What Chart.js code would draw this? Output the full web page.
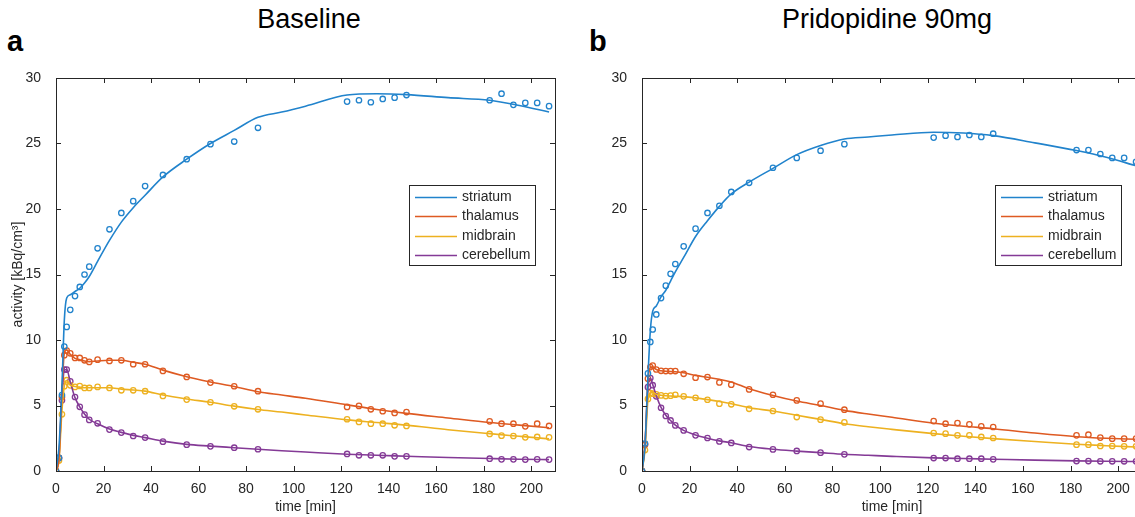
<!DOCTYPE html>
<html>
<head>
<meta charset="utf-8">
<script src="https://cdn.jsdelivr.net/npm/chart.js@4.4.1/dist/chart.umd.min.js"></script>
<style>
  html, body { margin: 0; padding: 0; background: #fff; }
  body { width: 1135px; height: 517px; overflow: hidden; position: relative; font-family: 'Liberation Sans', Arial, sans-serif; }
  canvas { position: absolute; top: 60px; }
  .lbl { position: absolute; color: #000; white-space: nowrap; }
  .panel { font-weight: bold; font-size: 29px; }
  .title { font-size: 27px; transform: translateX(-50%); }
</style>
</head>
<body>
<div class="lbl panel" style="left:7px; top:25px;">a</div>
<div class="lbl panel" style="left:589px; top:25px;">b</div>
<div class="lbl title" style="left:309px; top:4px;">Baseline</div>
<div class="lbl title" style="left:887px; top:4px;">Pridopidine 90mg</div>
<canvas id="chartA" width="575" height="457" style="left:0px;"></canvas>
<canvas id="chartB" width="577" height="457" style="left:585px;"></canvas>
<script>
// regions and colours (MATLAB default order)
const regions = ['striatum', 'thalamus', 'midbrain', 'cerebellum'];
const regionColors = ['#2183cc', '#de5a22', '#edb120', '#843a96'];

// frame mid-times [min]
const frameTimes = [0, 1.25, 2.5, 3.5, 4.5, 6, 8, 10, 12, 14, 17.5, 22.5, 27.5, 32.5, 37.5, 45, 55, 65, 75, 85,
  122.5, 127.5, 132.5, 137.5, 142.5, 147.5, 182.5, 187.5, 192.5, 197.5, 202.5, 207.5];

// measured activity, baseline [kBq/cm3]
const baseStriatum = [0, 1.0, 5.8, 9.5, 11.0, 12.3, 13.35, 14.05, 15.0, 15.6, 17.0, 18.45, 19.7, 20.6, 21.75, 22.6, 23.8, 24.95, 25.15, 26.2,
  28.2, 28.3, 28.15, 28.4, 28.5, 28.7, 28.3, 28.8, 27.95, 28.1, 28.1, 27.85];
const baseThalamus = [0, 1.0, 5.65, 8.84, 9.2, 8.98, 8.63, 8.63, 8.45, 8.33, 8.5, 8.4, 8.45, 8.15, 8.15, 7.64, 7.18, 6.75, 6.47, 6.09,
  4.89, 4.97, 4.71, 4.56, 4.43, 4.5, 3.79, 3.61, 3.61, 3.41, 3.61, 3.44];
const baseMidbrain = [0, 0.8, 4.33, 6.47, 6.93, 6.54, 6.42, 6.49, 6.34, 6.34, 6.42, 6.34, 6.16, 6.16, 6.09, 5.73, 5.45, 5.25, 4.94, 4.71,
  3.95, 3.75, 3.61, 3.61, 3.49, 3.44, 2.83, 2.7, 2.67, 2.57, 2.6, 2.57];
const baseCerebellum = [0, 1.0, 5.4, 7.74, 7.74, 6.85, 5.65, 4.9, 4.3, 3.9, 3.64, 3.16, 2.93, 2.67, 2.55, 2.24, 2.01, 1.88, 1.78, 1.66,
  1.3, 1.2, 1.2, 1.2, 1.12, 1.12, 0.94, 0.89, 0.89, 0.87, 0.89, 0.87];

// measured activity, pridopidine 90mg
const pridStriatum = [0, 2.1, 7.45, 9.85, 10.8, 11.95, 13.2, 14.15, 15.05, 15.8, 17.15, 18.5, 19.7, 20.25, 21.3, 22.0, 23.15, 23.9, 24.45, 24.95,
  25.45, 25.6, 25.5, 25.65, 25.5, 25.75, 24.5, 24.5, 24.2, 23.9, 23.9, 23.6];
const pridThalamus = [0, 2.0, 7.05, 7.93, 8.05, 7.75, 7.65, 7.63, 7.63, 7.63, 7.42, 7.12, 7.17, 6.76, 6.59, 6.23, 5.82, 5.39, 5.14, 4.68,
  3.81, 3.61, 3.66, 3.56, 3.41, 3.36, 2.72, 2.77, 2.55, 2.47, 2.47, 2.47];
const pridMidbrain = [0, 1.6, 5.5, 5.95, 5.9, 5.85, 5.77, 5.72, 5.75, 5.82, 5.7, 5.59, 5.44, 5.14, 5.09, 4.75, 4.58, 4.12, 3.92, 3.71,
  2.9, 2.85, 2.72, 2.72, 2.6, 2.52, 2.01, 2.01, 1.91, 1.91, 1.88, 1.88];
const pridCerebellum = [0, 2.05, 6.4, 7.1, 6.55, 5.7, 4.83, 4.2, 3.86, 3.48, 3.1, 2.72, 2.52, 2.26, 2.14, 1.83, 1.65, 1.53, 1.4, 1.27,
  0.99, 0.99, 0.94, 0.94, 0.94, 0.89, 0.76, 0.76, 0.74, 0.74, 0.74, 0.74];

// model fit curves, sampled at these times
const fitTimes = [0, 1.25, 2.5, 3.5, 4.5, 6, 8, 10, 12, 14, 17.5, 22.5, 27.5, 32.5, 37.5, 45, 55, 65, 75, 85, 95, 105,
  122.5, 135, 147.5, 165, 182.5, 195, 207.5];
const baseFitStriatum = [0, 1.8, 6.5, 11.5, 13.2, 13.45, 13.7, 13.95, 14.35, 14.85, 16.0, 17.6, 19.0, 20.1, 21.05, 22.45, 23.8, 25.0, 26.0, 27.0, 27.4, 27.85,
  28.7, 28.8, 28.73, 28.5, 28.3, 27.9, 27.4];
const baseFitThalamus = [0, 1.0, 6.0, 9.0, 9.25, 8.9, 8.6, 8.5, 8.4, 8.35, 8.4, 8.45, 8.45, 8.3, 8.15, 7.7, 7.2, 6.8, 6.45, 6.05, 5.8, 5.55,
  5.05, 4.7, 4.4, 4.05, 3.7, 3.5, 3.3];
const baseFitMidbrain = [0, 0.8, 4.6, 6.5, 6.9, 6.55, 6.45, 6.4, 6.35, 6.35, 6.35, 6.35, 6.25, 6.18, 6.1, 5.8, 5.5, 5.25, 4.95, 4.7, 4.5, 4.28,
  3.9, 3.7, 3.5, 3.15, 2.85, 2.65, 2.45];
const baseFitCerebellum = [0, 1.0, 5.6, 7.7, 7.75, 6.8, 5.6, 4.9, 4.35, 3.95, 3.6, 3.2, 2.95, 2.72, 2.55, 2.28, 2.03, 1.9, 1.78, 1.66, 1.55, 1.45,
  1.28, 1.2, 1.13, 1.03, 0.95, 0.9, 0.87];
const pridFitStriatum = [0, 1.9, 7.2, 10.7, 12.2, 12.6, 13.3, 13.8, 14.5, 15.2, 16.3, 17.9, 19.1, 20.2, 21.15, 22.05, 23.1, 24.15, 24.85, 25.35, 25.5, 25.65,
  25.86, 25.8, 25.6, 25.05, 24.46, 23.95, 23.3];
const pridFitThalamus = [0, 2.0, 6.9, 7.9, 7.95, 7.75, 7.65, 7.62, 7.6, 7.58, 7.5, 7.3, 7.15, 7.0, 6.8, 6.28, 5.77, 5.34, 5.0, 4.63, 4.35, 4.1,
  3.65, 3.42, 3.23, 2.9, 2.62, 2.5, 2.42];
const pridFitMidbrain = [0, 1.6, 5.4, 5.95, 6.0, 5.85, 5.78, 5.74, 5.72, 5.7, 5.68, 5.58, 5.45, 5.3, 5.14, 4.83, 4.58, 4.25, 3.94, 3.61, 3.38, 3.18,
  2.85, 2.65, 2.47, 2.25, 2.04, 1.93, 1.83];
const pridFitCerebellum = [0, 2.0, 6.3, 7.1, 6.6, 5.75, 4.85, 4.25, 3.85, 3.5, 3.1, 2.75, 2.5, 2.3, 2.15, 1.87, 1.66, 1.52, 1.4, 1.28, 1.2, 1.12,
  1.0, 0.95, 0.9, 0.83, 0.77, 0.74, 0.72];

// axis ticks
const xTicks = [0, 20, 40, 60, 80, 100, 120, 140, 160, 180, 200];
const yTicks = [0, 5, 10, 15, 20, 25, 30];

const axisColor = '#262626';
Chart.defaults.font.family = "'Liberation Sans', Arial, sans-serif";
Chart.defaults.font.size = 14;
Chart.defaults.color = axisColor;

const toXY = (xs, ys) => xs.map((x, i) => ({ x: x, y: ys[i] }));

// MATLAB style box with inward ticks
const boxPlugin = {
  id: 'matlabBox',
  afterDatasetsDraw(chart) {
    const { ctx, chartArea: a, scales } = chart;
    ctx.save();
    ctx.strokeStyle = axisColor;
    ctx.lineWidth = 1;
    ctx.beginPath();
    xTicks.forEach(v => {
      const px = Math.round(scales.x.getPixelForValue(v)) + 0.5;
      ctx.moveTo(px, a.bottom); ctx.lineTo(px, a.bottom - 5);
      ctx.moveTo(px, a.top); ctx.lineTo(px, a.top + 5);
    });
    yTicks.forEach(v => {
      const py = Math.round(scales.y.getPixelForValue(v)) + 0.5;
      ctx.moveTo(a.left, py); ctx.lineTo(a.left + 5, py);
      ctx.moveTo(a.right, py); ctx.lineTo(a.right - 5, py);
    });
    ctx.stroke();
    ctx.strokeRect(Math.round(a.left) + 0.5, Math.round(a.top) + 0.5, Math.round(a.right - a.left), Math.round(a.bottom - a.top));
    ctx.restore();
  }
};

// legend box inside the axes
const legendPlugin = {
  id: 'boxLegend',
  afterDraw(chart) {
    const { ctx, chartArea: a } = chart;
    const x = a.left + 353, y = a.top + 107, w = 126, h = 80;
    ctx.save();
    ctx.fillStyle = '#fff';
    ctx.fillRect(x, y, w, h);
    ctx.strokeStyle = axisColor;
    ctx.lineWidth = 1;
    ctx.strokeRect(Math.round(x) + 0.5, Math.round(y) + 0.5, w, h);
    ctx.font = "14px 'Liberation Sans', Arial, sans-serif";
    ctx.textBaseline = 'middle';
    regions.forEach((name, i) => {
      const ry = Math.round(y + 12 + i * 19.4) + 0.5;
      ctx.strokeStyle = regionColors[i];
      ctx.lineWidth = 1.5;
      ctx.beginPath();
      ctx.moveTo(x + 6, ry); ctx.lineTo(x + 48, ry);
      ctx.stroke();
      ctx.fillStyle = axisColor;
      ctx.fillText(name, x + 53, ry);
    });
    ctx.restore();
  }
};

function makePanel(id, measured, fits, showYTitle, yWidth) {
  const datasets = [];
  regions.forEach((name, i) => {
    datasets.push({
      label: name,
      data: toXY(fitTimes, fits[i]),
      showLine: true,
      borderColor: regionColors[i],
      borderWidth: 1.6,
      pointRadius: 0,
      cubicInterpolationMode: 'monotone'
    });
  });
  regions.forEach((name, i) => {
    datasets.push({
      label: name + ' data',
      data: toXY(frameTimes, measured[i]),
      showLine: false,
      pointStyle: 'circle',
      pointRadius: 2.7,
      pointBorderWidth: 1.3,
      borderColor: regionColors[i],
      backgroundColor: 'rgba(0,0,0,0)'
    });
  });
  return new Chart(document.getElementById(id), {
    type: 'scatter',
    data: { datasets: datasets },
    plugins: [boxPlugin, legendPlugin],
    options: {
      responsive: false,
      animation: false,
      layout: { padding: { top: 18, right: 20, bottom: 0, left: 0 } },
      plugins: { legend: { display: false }, tooltip: { enabled: false } },
      scales: {
        x: {
          type: 'linear', min: 0, max: 210,
          grid: { display: false },
          border: { display: false },
          afterFit: s => { s.height = 46; },
          ticks: { stepSize: 20, includeBounds: false, padding: 2, maxRotation: 0, color: axisColor },
          title: { display: true, text: 'time [min]', color: axisColor, padding: { top: 0, bottom: 1 } }
        },
        y: {
          min: 0, max: 30,
          grid: { display: false },
          border: { display: false },
          afterFit: s => { s.width = yWidth; },
          ticks: { stepSize: 5, padding: 7, color: axisColor },
          title: { display: showYTitle, text: 'activity [kBq/cm³]', color: axisColor, padding: { top: 10, bottom: 0 } }
        }
      }
    }
  });
}

makePanel('chartA',
  [baseStriatum, baseThalamus, baseMidbrain, baseCerebellum],
  [baseFitStriatum, baseFitThalamus, baseFitMidbrain, baseFitCerebellum], true, 56);
makePanel('chartB',
  [pridStriatum, pridThalamus, pridMidbrain, pridCerebellum],
  [pridFitStriatum, pridFitThalamus, pridFitMidbrain, pridFitCerebellum], false, 57);
</script>
</body>
</html>
